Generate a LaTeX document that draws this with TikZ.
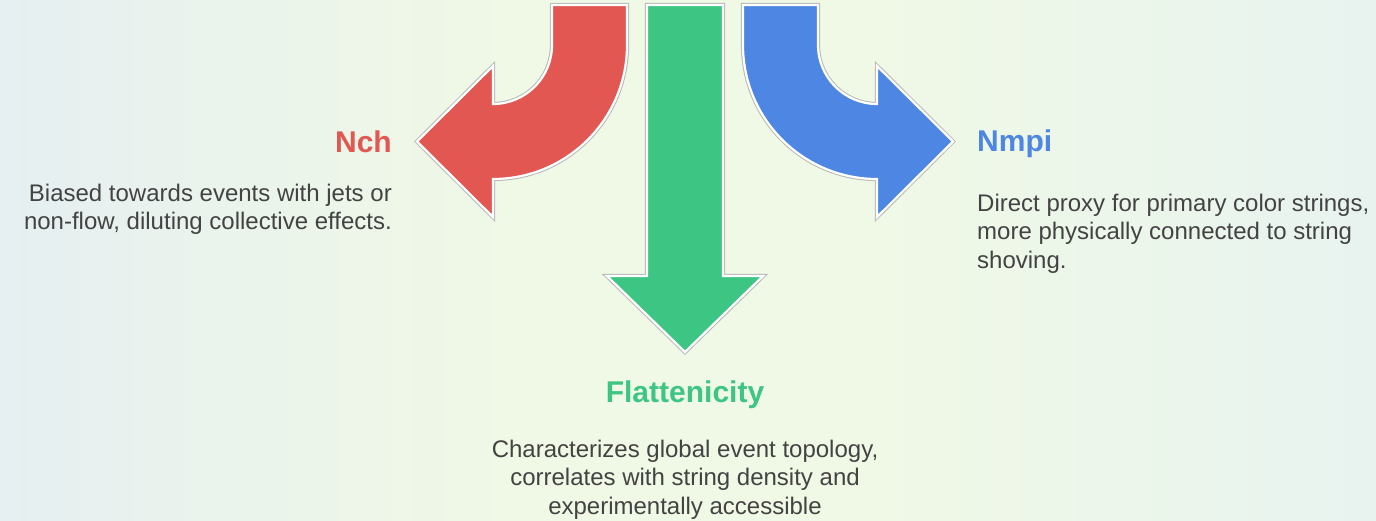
\documentclass[tikz,border=0pt]{standalone}
\usepackage{fontspec}
\setmainfont{Liberation Sans}
\definecolor{cred}{HTML}{E35752}
\definecolor{cgreen}{HTML}{3DC583}
\definecolor{cblue}{HTML}{4D87E3}
\definecolor{ctext}{HTML}{434343}
\definecolor{bgl}{HTML}{E6EFF1}
\definecolor{bgm}{HTML}{F0F9E5}
\definecolor{bgr}{HTML}{E8F3F0}
\tikzset{
  shapeout/.style={draw=black!28, line width=4.2pt, line join=miter},
  shapein/.style={draw=white, line width=2.2pt, line join=miter},
  ttl/.style={font=\fontsize{30}{35}\selectfont\bfseries, inner sep=0pt},
  body/.style={font=\fontsize{24}{28.3}\selectfont, text=ctext, inner sep=0pt},
}
\begin{document}
\begin{tikzpicture}[x=1pt,y=-1pt]
\useasboundingbox (0,0) rectangle (1376,521);
\shade[left color=bgl, right color=bgm, shading angle=90] (0,0) rectangle (520,521);
\fill[bgm] (519,0) rectangle (861,521);
\shade[left color=bgm, right color=bgr] (860,0) rectangle (1376,521);
% red arrow
\def\redpath{(552,5) -- (627,5) -- (627,45) arc[start angle=0,end angle=90,radius=134] -- (493,217) -- (417,141.5) -- (493,66) -- (493,104) arc[start angle=90,end angle=0,radius=59] -- cycle}
\draw[shapeout] \redpath;
\filldraw[shapein, fill=cred] \redpath;
% blue arrow
\def\bluepath{(818,5) -- (743,5) -- (743,45) arc[start angle=180,end angle=90,radius=134] -- (877,217) -- (953,141.5) -- (877,66) -- (877,104) arc[start angle=90,end angle=180,radius=59] -- cycle}
\draw[shapeout] \bluepath;
\filldraw[shapein, fill=cblue] \bluepath;
% green arrow
\def\greenpath{(647,5) -- (723,5) -- (723,276) -- (763,276) -- (685,352) -- (607,276) -- (647,276) -- cycle}
\draw[shapeout] \greenpath;
\filldraw[shapein, fill=cgreen] \greenpath;
% texts
\node[ttl, text=cred, anchor=base east] (nch) at (392,153) {Nch};
\node[body, anchor=north east, align=right] (nchtxt) at (392,184) {Biased towards events with jets or\\non-flow, diluting collective effects.};
\node[ttl, text=cblue, anchor=base west] (nmpi) at (977,152) {Nmpi};
\node[body, anchor=north west, align=left] (nmpitxt) at (977,194) {Direct proxy for primary color strings,\\more physically connected to string\\shoving.};
\node[ttl, text=cgreen, anchor=base] (flat) at (685,402) {Flattenicity};
\node[body, anchor=north, align=center] (flattxt) at (685,440) {Characterizes global event topology,\\correlates with string density and\\experimentally accessible};
\end{tikzpicture}
\end{document}
